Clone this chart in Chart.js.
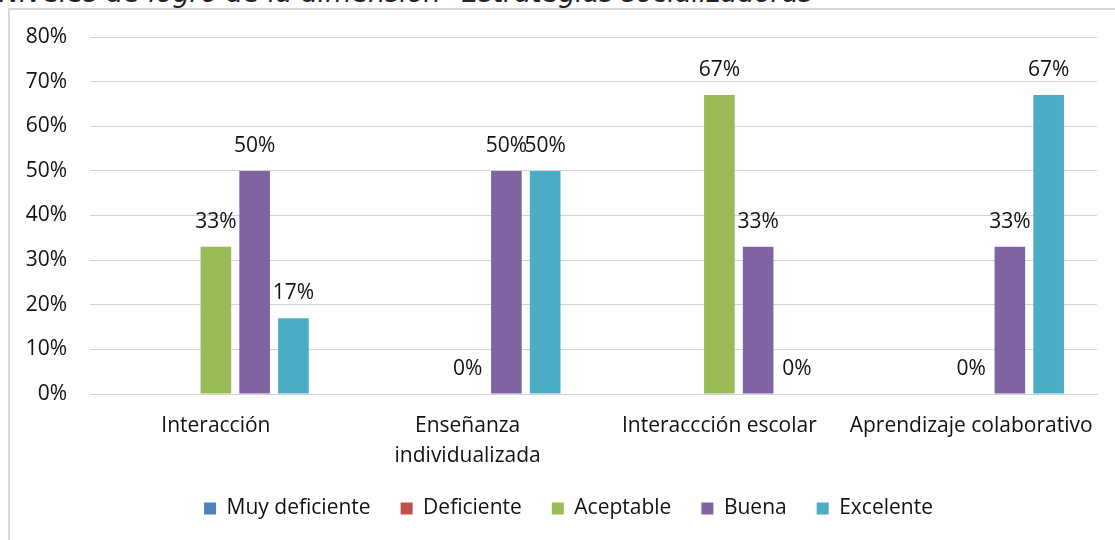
<!DOCTYPE html>
<html>
<head>
<meta charset="utf-8">
<script src="https://cdn.jsdelivr.net/npm/chart.js@4"></script>
<style>
  html, body { margin: 0; padding: 0; background: #fff; overflow: hidden; }
  #wrap { position: relative; width: 1115px; height: 540px; }
  #frame { position: absolute; left: 8px; top: 8px; width: 1200px; height: 600px;
           border-left: 2px solid #d9d9d9; border-top: 2px solid #d9d9d9; box-sizing: border-box; }
  #title { position: absolute; left: -1px; top: -21px; white-space: nowrap; line-height: 27px;
           font-family: "DejaVu Sans", sans-serif; font-style: italic; font-size: 27px; color: #222; }
  canvas { position: absolute; left: 0; top: 0; }
</style>
</head>
<body>
<div id="wrap">
  <div id="frame"></div>
  <div id="title">Niveles de logro de la dimensión "Estrategias socializadoras"</div>
  <canvas id="chart" width="1115" height="540"></canvas>
</div>
<script>
// Data
const categories = ['Interacción', ['Enseñanza', 'individualizada'], 'Interaccción escolar', 'Aprendizaje colaborativo'];
const muyDeficiente = [null, null, null, null];
const deficiente = [null, null, null, null];
const aceptable = [33, 0, 67, 0];
const buena = [50, 50, 33, 33];
const excelente = [17, 50, 0, 67];
const yMax = 80;
const yStep = 10;

const FONT = '"Open Sans", sans-serif';

// Draws "NN%" above each bar (no datalabels plugin available offline)
const valueLabels = {
    id: 'valueLabels',
    afterDatasetsDraw(chart) {
        const ctx = chart.ctx;
        ctx.save();
        ctx.font = '21px ' + FONT;
        ctx.fillStyle = '#111';
        ctx.textAlign = 'center';
        ctx.textBaseline = 'middle';
        chart.data.datasets.forEach((ds, i) => {
            const meta = chart.getDatasetMeta(i);
            meta.data.forEach((bar, j) => {
                const v = ds.data[j];
                if (v === null || v === undefined) return;
                ctx.fillText(v + '%', bar.x, bar.y - 25);
            });
        });
        ctx.restore();
    }
};

// nudge the legend a bit right, like the original
const legendShift = {
    id: 'legendShift',
    afterLayout(chart) {
        const lg = chart.legend;
        if (!lg) return;
        lg.left += 20;
        lg.right += 20;
        lg.legendHitBoxes.forEach(b => { b.left += 20; });
    }
};

new Chart(document.getElementById('chart').getContext('2d'), {
    type: 'bar',
    data: {
        labels: categories,
        datasets: [
            { label: 'Muy deficiente', data: muyDeficiente, backgroundColor: '#4F81BD' },
            { label: 'Deficiente', data: deficiente, backgroundColor: '#C0504D' },
            { label: 'Aceptable', data: aceptable, backgroundColor: '#9BBB59' },
            { label: 'Buena', data: buena, backgroundColor: '#8064A2' },
            { label: 'Excelente', data: excelente, backgroundColor: '#4BACC6' }
        ]
    },
    options: {
        responsive: false,
        animation: false,
        layout: { padding: { top: 37, left: 0, right: 18, bottom: 11 } },
        datasets: { bar: { categoryPercentage: 0.77, barPercentage: 0.79 } },
        scales: {
            x: {
                grid: { display: false },
                border: { display: true, color: '#d4d4d4', width: 1 },
                ticks: { color: '#111', font: { family: FONT, size: 21, lineHeight: 1.43 }, padding: 9, maxRotation: 0, autoSkip: false },
                afterFit(scale) { scale.height = 74; }
            },
            y: {
                min: 0,
                max: yMax,
                grid: { color: '#d4d4d4', lineWidth: 1, drawTicks: false },
                border: { display: false },
                ticks: { stepSize: yStep, color: '#111', font: { family: FONT, size: 21 }, padding: 23, callback: v => v + '%' },
                afterFit(scale) { scale.width = 90; }
            }
        },
        plugins: {
            legend: {
                position: 'bottom',
                labels: { color: '#111', font: { family: FONT, size: 21 }, boxWidth: 12, boxHeight: 12, padding: 30 }
            },
            tooltip: { enabled: false }
        }
    },
    plugins: [valueLabels, legendShift]
});
</script>
</body>
</html>
